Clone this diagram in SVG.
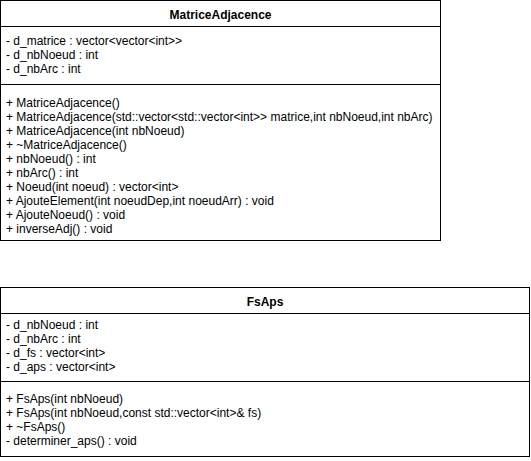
<svg xmlns="http://www.w3.org/2000/svg" width="531" height="461" viewBox="0 0 531 461">
<style>
.box{fill:#ffffff;stroke:#000000;stroke-width:1}
.div{stroke:#000000;stroke-width:1;fill:none}
text{font-family:"Liberation Sans",Arial,sans-serif;font-size:12px;fill:#000000}
.title{font-weight:bold;text-anchor:middle}
</style>
<rect width="531" height="461" fill="#ffffff"/>
<g id="MatriceAdjacence">
<rect class="box" x="0.5" y="0.5" width="440" height="240"/>
<line class="div" x1="0.5" y1="26.5" x2="440.5" y2="26.5"/>
<line class="div" x1="0.5" y1="84.5" x2="440.5" y2="84.5"/>
<text class="title" x="220.5" y="18.5">MatriceAdjacence</text>
<text x="6" y="44.5">- d_matrice : vector&lt;vector&lt;int&gt;&gt;</text>
<text x="6" y="58.5">- d_nbNoeud : int</text>
<text x="6" y="72.5">- d_nbArc : int</text>
<text x="6" y="106.5">+ MatriceAdjacence()</text>
<text x="6" y="120.5">+ MatriceAdjacence(std::vector&lt;std::vector&lt;int&gt;&gt; matrice,int nbNoeud,int nbArc)</text>
<text x="6" y="134.5">+ MatriceAdjacence(int nbNoeud)</text>
<text x="6" y="148.5">+ ~MatriceAdjacence()</text>
<text x="6" y="162.5">+ nbNoeud() : int</text>
<text x="6" y="176.5">+ nbArc() : int</text>
<text x="6" y="190.5">+ Noeud(int noeud) : vector&lt;int&gt;</text>
<text x="6" y="204.5">+ AjouteElement(int noeudDep,int noeudArr) : void</text>
<text x="6" y="218.5">+ AjouteNoeud() : void</text>
<text x="6" y="232.5">+ inverseAdj() : void</text>
</g>
<g id="FsAps">
<rect class="box" x="0.5" y="287.5" width="529" height="169"/>
<line class="div" x1="0.5" y1="313.5" x2="529.5" y2="313.5"/>
<line class="div" x1="0.5" y1="381.5" x2="529.5" y2="381.5"/>
<text class="title" x="265" y="305.5">FsAps</text>
<text x="6" y="329">- d_nbNoeud : int</text>
<text x="6" y="343">- d_nbArc : int</text>
<text x="6" y="357">- d_fs : vector&lt;int&gt;</text>
<text x="6" y="371">- d_aps : vector&lt;int&gt;</text>
<text x="6" y="402.7">+ FsAps(int nbNoeud)</text>
<text x="6" y="416.7">+ FsAps(int nbNoeud,const std::vector&lt;int&gt;&amp; fs)</text>
<text x="6" y="430.7">+ ~FsAps()</text>
<text x="6" y="444.7">- determiner_aps() : void</text>
</g>
<g id="connectors"></g>
</svg>
